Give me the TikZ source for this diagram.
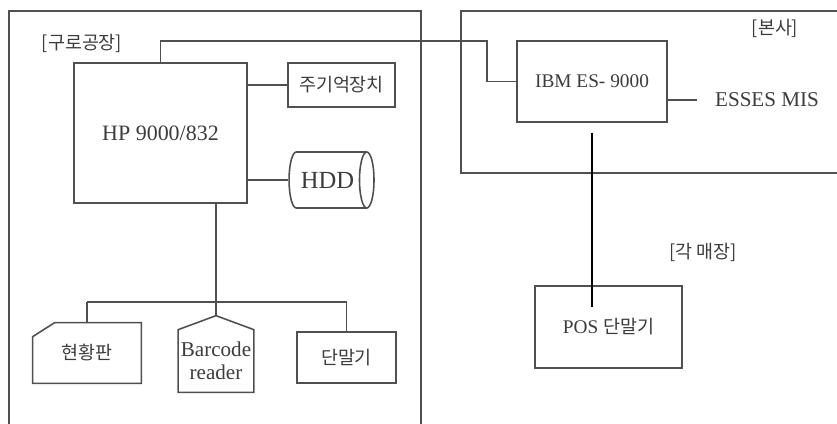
\documentclass[tikz,border=0pt]{standalone}
\usepackage{fontspec}
\setmainfont{Liberation Serif}
\newfontfamily\kr{Noto Sans CJK KR}
\usetikzlibrary{shapes.geometric}

\definecolor{linegray}{HTML}{505050}
\definecolor{textgray}{HTML}{3C3C3C}

\tikzset{
  box/.style={draw=linegray, line width=0.9pt, text=textgray, inner sep=0pt},
  plain/.style={text=textgray, inner sep=0pt},
  wire/.style={draw=linegray, line width=0.9pt},
  big/.style={font=\fontsize{12.5}{14}\selectfont},
  hangul/.style={font=\kr\fontsize{10.5}{12}\selectfont}
}

\begin{document}
\begin{tikzpicture}[x=0.02cm, y=-0.02cm]

\useasboundingbox (0,0) rectangle (837,423);

\draw[wire] (9,430) -- (9,11) -- (421,11) -- (421,430);
\draw[wire] (845,11) -- (461,11) -- (461,173) -- (845,173);

\node[plain, hangul] (guro) at (82,43) {[구로공장]};
\node[plain, hangul] (bonsa) at (775,28) {[본사]};
\node[plain, hangul] (maejang) at (703,252) {[각 매장]};

\node[box, big, minimum width=3.46cm, minimum height=2.8cm] (hp) at (160.5,133) {HP 9000/832};
\node[box, hangul, minimum width=2.14cm, minimum height=0.88cm] (mem) at (341.5,85) {주기억장치};
\node[draw=linegray, line width=0.9pt, text=textgray, cylinder, aspect=0.9, inner sep=0pt,
      minimum width=1.12cm, minimum height=1.7cm, font=\fontsize{14}{16}\selectfont] (hdd) at (327.5,180) {HDD};

\node[plain, hangul, minimum width=2.16cm, minimum height=1.2cm] (hyun) at (87,353) {현황판};
\draw[wire] (hyun.south west) -- (hyun.south east) -- (hyun.north east)
  -- ([xshift=0.44cm]hyun.north west) -- ([yshift=-0.28cm]hyun.north west) -- cycle;

\node[plain, align=center, minimum width=1.5cm, minimum height=1.24cm,
      font=\fontsize{12}{13}\selectfont] (bar) at (216,361) {Barcode\\reader};
\draw[wire] (bar.south west) -- (bar.south east) -- (bar.north east)
  -- ([yshift=0.28cm]bar.north) -- (bar.north west) -- cycle;

\node[box, hangul, minimum width=1.98cm, minimum height=1.02cm] (dan) at (346.5,357.5) {단말기};

\node[box, font=\fontsize{11}{13}\selectfont, minimum width=3cm, minimum height=1.62cm] (ibm) at (592,81.5) {IBM ES- 9000};
\node[plain, font=\fontsize{12}{14}\selectfont, inner xsep=0.36cm] (mis) at (767,100) {ESSES MIS};

\node[box, minimum width=2.94cm, minimum height=1.64cm] (pos) at (608.5,327)
  {\fontsize{11}{13}\selectfont POS \kr\fontsize{10.5}{12}\selectfont 단말기};

\coordinate (turn) at (487,41);
\coordinate (bus) at (216,302);

\draw[wire] (hp.north) |- (turn) |- (ibm.west);
\draw[wire] (hp.east |- mem.west) -- (mem.west);
\draw[wire] (hp.east |- hdd.west) -- (hdd.west);
\draw[wire] (hp.south -| bus) -- (bus);
\draw[wire] (hyun.north |- bus) -- (dan.north |- bus);
\draw[wire] (hyun.north |- bus) -- (hyun.north);
\draw[wire] (bus) -- ([yshift=0.28cm]bar.north);
\draw[wire] (dan.north |- bus) -- (dan.north);
\draw[wire] (ibm.east |- mis.west) -- (mis.west);

\draw[line width=1.6pt] ([yshift=-0.2cm]ibm.south) -- ([yshift=-0.44cm]ibm.south |- pos.north);

\end{tikzpicture}
\end{document}
